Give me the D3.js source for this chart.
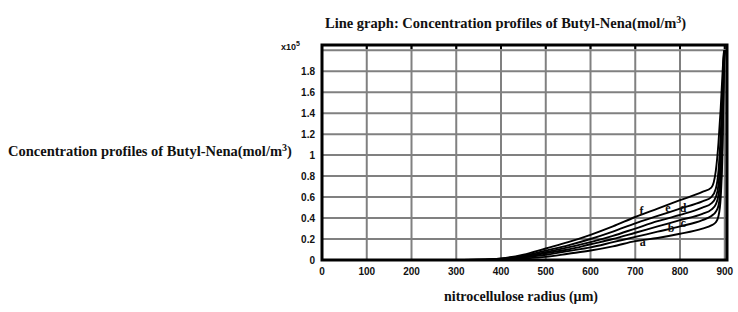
<!DOCTYPE html>
<html>
<head>
<meta charset="utf-8">
<script src="https://cdn.jsdelivr.net/npm/d3@7/dist/d3.min.js"></script>
<style>
  body { margin: 0; background: #fff; }
  svg { display: block; }
  .tick-label { font-family: 'Liberation Sans', Arial, sans-serif; font-weight: bold; font-size: 10px; fill: #111; }
  .serif { font-family: 'Liberation Serif', 'Times New Roman', serif; font-weight: bold; font-size: 14.5px; fill: #111; }
</style>
</head>
<body>
<svg id="chart" width="738" height="312"></svg>
<script>
// radius positions (µm) sampled along every profile
const radius = [0, 300, 350, 400, 450, 500, 550, 600, 650, 700, 750, 800, 850, 870, 880, 886, 891, 895, 898, 900]

// concentration profiles, x10^5 mol/m3
const curveA = [0, 0, 0, 0.005, 0.015, 0.03, 0.06, 0.09, 0.13, 0.18, 0.21, 0.25, 0.3, 0.33, 0.36, 0.42, 0.6, 1.05, 1.8, 2.0]
const curveB = [0, 0, 0.001, 0.007, 0.025, 0.05, 0.085, 0.12, 0.17, 0.22, 0.27, 0.32, 0.38, 0.42, 0.46, 0.52, 0.7, 1.2, 1.85, 2.0]
const curveC = [0, 0, 0.001, 0.008, 0.03, 0.065, 0.1, 0.15, 0.2, 0.26, 0.32, 0.38, 0.44, 0.48, 0.53, 0.62, 0.85, 1.35, 1.9, 2.0]
const curveD = [0, 0, 0.002, 0.01, 0.035, 0.075, 0.12, 0.17, 0.23, 0.3, 0.37, 0.43, 0.5, 0.54, 0.6, 0.72, 1.0, 1.5, 1.93, 2.0]
const curveE = [0, 0, 0.002, 0.012, 0.04, 0.09, 0.14, 0.2, 0.27, 0.35, 0.42, 0.49, 0.56, 0.6, 0.68, 0.85, 1.2, 1.6, 1.95, 2.0]
const curveF = [0, 0, 0.003, 0.015, 0.05, 0.11, 0.17, 0.24, 0.32, 0.41, 0.49, 0.57, 0.65, 0.69, 0.85, 1.12, 1.45, 1.78, 1.98, 2.0]

const seriesNames = ['a', 'b', 'c', 'd', 'e', 'f']
// where each letter sits, in data units [radius, value]
const labelPos = [[717, 0.174], [780, 0.305], [807, 0.352], [807, 0.492], [773, 0.496], [714, 0.47]]

const xTicks = [0, 100, 200, 300, 400, 500, 600, 700, 800, 900]
const yTicks = [0, 0.2, 0.4, 0.6, 0.8, 1, 1.2, 1.4, 1.6, 1.8]

const svg = d3.select('#chart')
const x = d3.scaleLinear().domain([0, 905]).range([322, 727])
const y = d3.scaleLinear().domain([0, 2.05]).range([260, 45])

// grid
svg.append('g')
  .selectAll('line.vg')
  .data(xTicks.slice(1))
  .enter()
  .append('line')
  .attr('x1', d => x(d)).attr('x2', d => x(d))
  .attr('y1', y(2.05)).attr('y2', y(0))
  .attr('stroke', '#808080').attr('stroke-width', 2)

svg.append('g')
  .selectAll('line.hg')
  .data(yTicks.slice(1).concat([2]))
  .enter()
  .append('line')
  .attr('x1', x(0)).attr('x2', x(905))
  .attr('y1', d => y(d)).attr('y2', d => y(d))
  .attr('stroke', '#808080').attr('stroke-width', 2)

// curves
const allCurves = [curveA, curveB, curveC, curveD, curveE, curveF]
const line = d3.line()
  .x(d => x(d[0]))
  .y(d => y(d[1]))
  .curve(d3.curveMonotoneX)

svg.append('g')
  .selectAll('path')
  .data(allCurves)
  .enter()
  .append('path')
  .attr('d', vals => line(radius.map((r, i) => [r, vals[i]])))
  .attr('fill', 'none')
  .attr('stroke', '#000')
  .attr('stroke-width', 1.9)

// frame
svg.append('rect')
  .attr('x', x(0)).attr('y', y(2.05))
  .attr('width', x(905) - x(0)).attr('height', y(0) - y(2.05))
  .attr('fill', 'none').attr('stroke', '#000').attr('stroke-width', 3)

// small ticks on the top edge
svg.append('g')
  .selectAll('line')
  .data(xTicks.slice(1))
  .enter()
  .append('line')
  .attr('x1', d => x(d)).attr('x2', d => x(d))
  .attr('y1', y(2.05)).attr('y2', y(2.05) + 4)
  .attr('stroke', '#000').attr('stroke-width', 2)

// tick labels
svg.append('g')
  .selectAll('text')
  .data(xTicks)
  .enter()
  .append('text')
  .attr('class', 'tick-label')
  .attr('x', d => x(d)).attr('y', 275)
  .attr('text-anchor', 'middle')
  .text(d => d)

svg.append('g')
  .selectAll('text')
  .data(yTicks)
  .enter()
  .append('text')
  .attr('class', 'tick-label')
  .attr('x', 315).attr('y', d => y(d) + 3.5)
  .attr('text-anchor', 'end')
  .text(d => d)

const mult = svg.append('text').attr('class', 'tick-label')
  .attr('x', 281).attr('y', 50).style('font-size', '9px')
mult.append('tspan').text('x10')
mult.append('tspan').attr('dy', -4).style('font-size', '7px').text('5')

// series letters
svg.append('g')
  .selectAll('text')
  .data(seriesNames)
  .enter()
  .append('text')
  .attr('class', 'serif')
  .style('font-size', '12px')
  .attr('x', (d, i) => x(labelPos[i][0]))
  .attr('y', (d, i) => y(labelPos[i][1]))
  .attr('dy', '0.32em')
  .attr('text-anchor', 'middle')
  .text(d => d)

// titles
function withCube (sel, base) {
  sel.append('tspan').text(base)
  sel.append('tspan').attr('dy', -5).style('font-size', '10px').text('3')
  sel.append('tspan').attr('dy', 5).text(')')
}

withCube(svg.append('text').attr('class', 'serif')
  .attr('x', 325).attr('y', 28), 'Line graph: Concentration profiles of Butyl-Nena(mol/m')

withCube(svg.append('text').attr('class', 'serif')
  .attr('x', 8).attr('y', 156), 'Concentration profiles of Butyl-Nena(mol/m')

svg.append('text').attr('class', 'serif')
  .style('font-size', '14px')
  .attr('x', 521).attr('y', 301)
  .attr('text-anchor', 'middle')
  .text('nitrocellulose radius (µm)')
</script>
</body>
</html>
